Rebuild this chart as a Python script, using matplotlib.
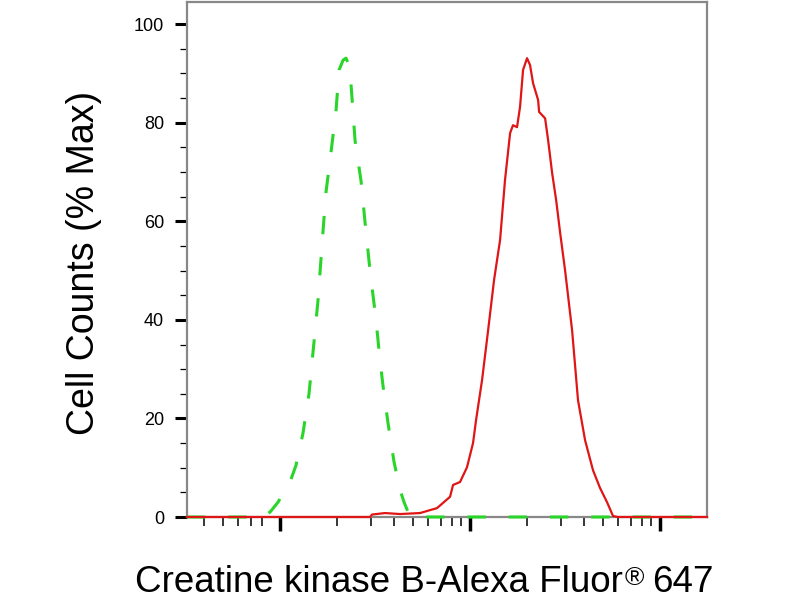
import numpy as np
import matplotlib
matplotlib.use('Agg')
import matplotlib.pyplot as plt
from matplotlib.ticker import FixedLocator, NullFormatter

plt.rcParams['font.family'] = ['Liberation Sans', 'DejaVu Sans']

# isotype control (green, dashed)
ctrl_x = [32.4, 80.4, 88.6, 97.6, 112.9, 121.4, 132.1, 142.1, 158.5, 168.4, 174.7,
          185.5, 197.1, 204.5, 214.7, 222.5, 230.8, 236.6, 248.4, 266.9, 280.2,
          297.6, 320, 335.9, 348.5, 370, 398, 428.2, 449.6, 483.5, 17660]
ctrl_y = [0, 0, 1.0, 3.0, 7.1, 10.5, 17, 25, 44, 58, 66,
          74, 82.4, 90.7, 92.7, 93.1, 91.7, 87.6, 76.3, 68.2, 59.8,
          50, 40, 31.8, 26.6, 19.1, 11.2, 5.5, 3.0, 0, 0]

# Creatine kinase B stained (red, solid)
ckb_x = [32.4, 297.6, 305, 357, 428, 545, 670, 785, 814, 886, 964, 1037, 1076,
         1157, 1245, 1338, 1439, 1528, 1625, 1683, 1767, 1833, 1901, 1995, 2069,
         2147, 2282, 2309, 2483, 2575, 2704, 2839, 2981, 3162, 3444, 3700, 4030,
         4436, 4830, 5260, 5656, 6010, 17660]
ckb_y = [0, 0, 0.5, 0.8, 0.6, 0.8, 1.8, 4.1, 6.5, 7.1, 10.1, 15, 19.7,
         27.8, 37.9, 48.1, 56.2, 68.4, 77.9, 79.5, 79.1, 83.2, 90.7, 93.1, 91.7,
         88, 84.6, 82.2, 80.9, 76.5, 69.8, 64.3, 57.6, 50.1, 37.9, 23.7, 15.6,
         9.5, 5.9, 3.0, 0.2, 0, 0]

y_major = [0, 20, 40, 60, 80, 100]
x_major = [1e2, 1e3, 1e4]
x_minor = [40, 50, 60, 70, 80] + [k * 100 for k in range(2, 10)] + [k * 1000 for k in range(2, 10)]

fig = plt.figure(figsize=(8, 6), dpi=100)
ax = fig.add_axes([187 / 800, 1 - 517 / 600, 520 / 800, 515 / 600])

ax.plot(ctrl_x, ctrl_y, color='#2ad52a', lw=2.2, ls=(0, (6, 7.5)), zorder=3, clip_on=False)
ax.plot(ckb_x, ckb_y, color='#e01515', lw=1.6, zorder=4, clip_on=False)

ax.set_xscale('log')
ax.set_xlim(32.4, 17660)
ax.set_ylim(0, 104.5)

for s in ax.spines.values():
    s.set_color('#888888')
    s.set_linewidth(1.6)

ax.xaxis.set_major_locator(FixedLocator(x_major))
ax.xaxis.set_minor_locator(FixedLocator(x_minor))
ax.xaxis.set_major_formatter(NullFormatter())
ax.xaxis.set_minor_formatter(NullFormatter())
ax.set_yticks(y_major)
ax.yaxis.set_minor_locator(FixedLocator(np.arange(5, 105, 5)))

ax.tick_params(axis='x', which='major', direction='out', length=10, width=2.5, color='black')
ax.tick_params(axis='x', which='minor', direction='out', length=6.5, width=1.1, color='black')
ax.tick_params(axis='y', which='major', direction='out', length=8.5, width=2.2, color='black',
               labelsize=13, pad=8)
ax.tick_params(axis='y', which='minor', direction='out', length=5, width=0.9, color='black')

fig.text(84 / 800, 1 - 263 / 600, 'Cell Counts (% Max)', rotation=90,
         ha='center', va='center', fontsize=27)

# x label with raised registered mark
t1 = fig.text(135 / 800, 1 - 592 / 600, 'Creatine kinase B-Alexa Fluor',
              ha='left', va='baseline', fontsize=26.5)
t2 = ax.annotate('\u00ae', xy=(1, 0), xycoords=t1, xytext=(1, 7), textcoords='offset points',
                 ha='left', va='bottom', fontsize=19)
t3 = ax.annotate('647', xy=(1, 0), xycoords=(t2, t1), xytext=(6, 0), textcoords='offset points',
                 ha='left', va='bottom', fontsize=26.5)

fig.savefig('out.png', dpi=100)
